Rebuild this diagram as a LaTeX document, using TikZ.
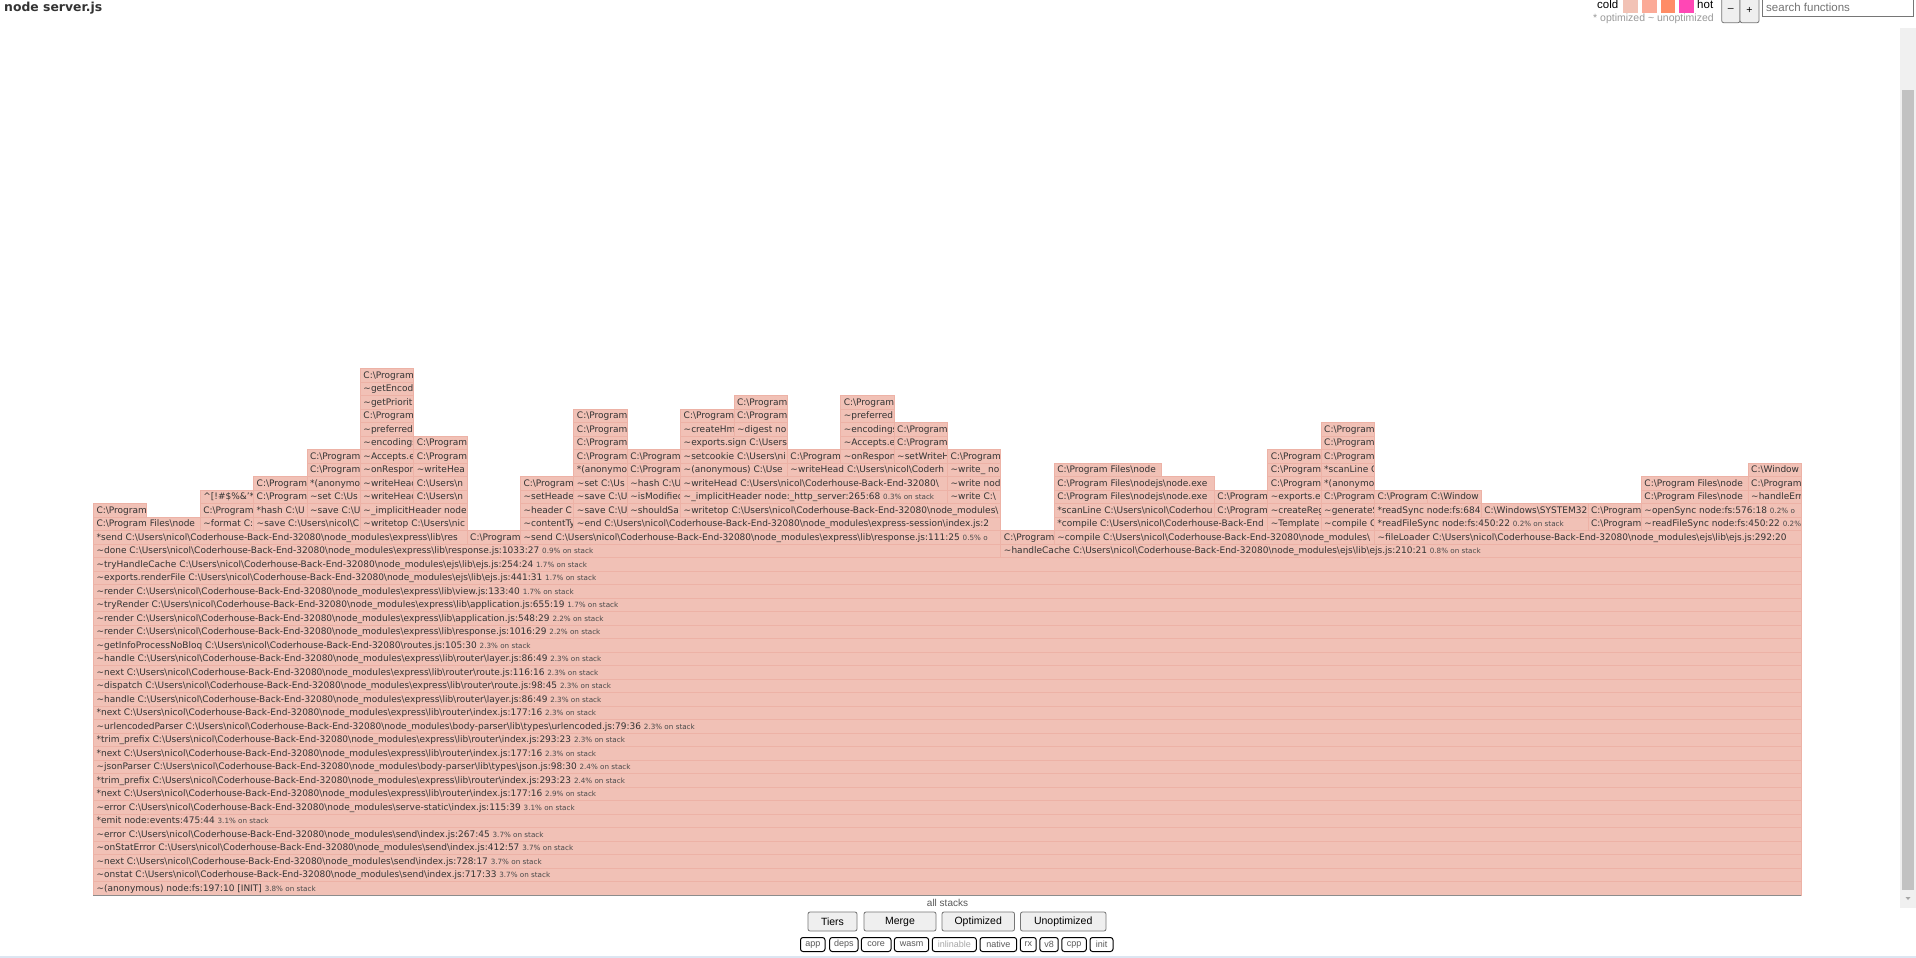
\documentclass[tikz,border=0pt]{standalone}
\usepackage{fontspec}
\setmainfont{DejaVu Sans}
\newfontfamily\arialfont{Liberation Sans}

\definecolor{frfill}{HTML}{F1C1B6}
\definecolor{frline}{HTML}{EDB2A6}
\definecolor{frtext}{HTML}{333333}
\definecolor{pctext}{HTML}{4A4A4A}
\definecolor{btnfill}{HTML}{EFEFEF}
\definecolor{btnline}{HTML}{767676}
\definecolor{sqone}{HTML}{F2C2B5}
\definecolor{sqtwo}{HTML}{FBAA97}
\definecolor{sqthree}{HTML}{FF8C66}
\definecolor{sqfour}{HTML}{FF47B5}
\definecolor{pageblue}{HTML}{DCE6F2}

\newcommand\bsl{\textbackslash}
\newcommand\tld{\textasciitilde}
\newcommand\nm{C:\bsl Users\bsl nicol\bsl Coderhouse-Back-End-32080\bsl node\_modules\bsl}
\newcommand\cuser{C:\bsl Users\bsl nicol\bsl Coderhouse-Back-End-32080\bsl}
\newcommand\pg{C:\bsl Program Files\bsl nodejs\bsl node.exe}
\newcommand\pgm{C:\bsl Program}
\newcommand\pcs[1]{{\fontsize{7.2}{8}\selectfont\color{pctext}#1}}
\newcommand\pc[1]{\pcs{#1\% on stack}}
% frame: left column, right column, level, text
\newcommand\fr[4]{%
  \path[frame] ({93.3+53.375*#1},{895-13.5*#3}) rectangle ({93.3+53.375*#2},{895-13.5*(#3+1)});
  \begin{scope}
    \clip ({93.3+53.375*#1},{895-13.5*#3}) rectangle ({92.6+53.375*#2},{895-13.5*(#3+1)});
    \node[lbl] (f#3-#1) at ({96.4+53.375*#1},{895-13.5*#3-3.6}) {#4};
  \end{scope}}

\begin{document}
\begin{tikzpicture}[x=1pt,y=-1pt,
    frame/.style={fill=frfill,draw=frline,line width=0.6pt},
    lbl/.style={anchor=base west,inner sep=0pt,text=frtext,font=\fontsize{9}{10}\selectfont},
    btn/.style={draw=btnline,fill=btnfill,rounded corners=2pt,line width=0.8pt},
    tag/.style={draw=black,fill=white,rounded corners=2.5pt,line width=1pt},
    ui/.style={inner sep=0pt,font=\arialfont\fontsize{10.5}{12}\selectfont}]

\useasboundingbox (0,0) rectangle (1916,958);
\fill[white] (0,0) rectangle (1916,958);
\fill[pageblue] (0,955.5) rectangle (1916,958);

% header
\node[anchor=base west,inner sep=0pt,text=frtext,font=\bfseries\fontsize{12.4}{14}\selectfont] (title) at (4,12) {node server.js};
\node[ui,anchor=base west,font=\arialfont\fontsize{11.5}{13}\selectfont] (cold) at (1597,9) {cold};
\fill[sqone] (1623,0) rectangle (1637.5,13.3);
\fill[sqtwo] (1641.5,0) rectangle (1656.5,13.3);
\fill[sqthree] (1660.5,0) rectangle (1675,13.3);
\fill[sqfour] (1679,0) rectangle (1694,13.3);
\node[ui,anchor=base west,font=\arialfont\fontsize{11.5}{13}\selectfont] (hot) at (1697,9) {hot};
\node[ui,anchor=base west,text=black!40,font=\arialfont\fontsize{10.5}{12}\selectfont] (tiers) at (1593,22) {* optimized \textasciitilde{} unoptimized};
\draw[btn] (1721.7,-4) rectangle (1740,22.7);
\draw[btn] (1740,-4) rectangle (1759,22.7);
\node[ui] (minus) at (1730.8,10) {\textendash};
\node[ui] (plus) at (1749.5,10) {+};
\draw[btnline,fill=white,line width=0.9pt] (1762.5,-2) rectangle (1913,16);
\node[ui,anchor=base west,text=black!55,font=\arialfont\fontsize{11.5}{13}\selectfont] (search) at (1766,11.5) {search functions};

% scrollbar
\fill[black!6] (1900,28) rectangle (1916,908);
\fill[black!24] (1902,89.5) rectangle (1914,890);
\fill[black!35] (1905.5,897) -- (1910.5,897) -- (1908,900) -- cycle;

% full width stack
\fr{0}{32}{0}{\tld(anonymous) node:fs:197:10 [INIT] \pc{3.8}}
\fr{0}{32}{1}{\tld onstat \nm send\bsl index.js:717:33 \pc{3.7}}
\fr{0}{32}{2}{\tld next \nm send\bsl index.js:728:17 \pc{3.7}}
\fr{0}{32}{3}{\tld onStatError \nm send\bsl index.js:412:57 \pc{3.7}}
\fr{0}{32}{4}{\tld error \nm send\bsl index.js:267:45 \pc{3.7}}
\fr{0}{32}{5}{*emit node:events:475:44 \pc{3.1}}
\fr{0}{32}{6}{\tld error \nm serve-static\bsl index.js:115:39 \pc{3.1}}
\fr{0}{32}{7}{*next \nm express\bsl lib\bsl router\bsl index.js:177:16 \pc{2.9}}
\fr{0}{32}{8}{*trim\_prefix \nm express\bsl lib\bsl router\bsl index.js:293:23 \pc{2.4}}
\fr{0}{32}{9}{\tld jsonParser \nm body-parser\bsl lib\bsl types\bsl json.js:98:30 \pc{2.4}}
\fr{0}{32}{10}{*next \nm express\bsl lib\bsl router\bsl index.js:177:16 \pc{2.3}}
\fr{0}{32}{11}{*trim\_prefix \nm express\bsl lib\bsl router\bsl index.js:293:23 \pc{2.3}}
\fr{0}{32}{12}{\tld urlencodedParser \nm body-parser\bsl lib\bsl types\bsl urlencoded.js:79:36 \pc{2.3}}
\fr{0}{32}{13}{*next \nm express\bsl lib\bsl router\bsl index.js:177:16 \pc{2.3}}
\fr{0}{32}{14}{\tld handle \nm express\bsl lib\bsl router\bsl layer.js:86:49 \pc{2.3}}
\fr{0}{32}{15}{\tld dispatch \nm express\bsl lib\bsl router\bsl route.js:98:45 \pc{2.3}}
\fr{0}{32}{16}{\tld next \nm express\bsl lib\bsl router\bsl route.js:116:16 \pc{2.3}}
\fr{0}{32}{17}{\tld handle \nm express\bsl lib\bsl router\bsl layer.js:86:49 \pc{2.3}}
\fr{0}{32}{18}{\tld getInfoProcessNoBloq \cuser routes.js:105:30 \pc{2.3}}
\fr{0}{32}{19}{\tld render \nm express\bsl lib\bsl response.js:1016:29 \pc{2.2}}
\fr{0}{32}{20}{\tld render \nm express\bsl lib\bsl application.js:548:29 \pc{2.2}}
\fr{0}{32}{21}{\tld tryRender \nm express\bsl lib\bsl application.js:655:19 \pc{1.7}}
\fr{0}{32}{22}{\tld render \nm express\bsl lib\bsl view.js:133:40 \pc{1.7}}
\fr{0}{32}{23}{\tld exports.renderFile \nm ejs\bsl lib\bsl ejs.js:441:31 \pc{1.7}}
\fr{0}{32}{24}{\tld tryHandleCache \nm ejs\bsl lib\bsl ejs.js:254:24 \pc{1.7}}
\fr{0}{17}{25}{\tld done \nm express\bsl lib\bsl response.js:1033:27 \pc{0.9}}
\fr{17}{32}{25}{\tld handleCache \nm ejs\bsl lib\bsl ejs.js:210:21 \pc{0.8}}

% level 26
\fr{0}{7}{26}{*send \nm express\bsl lib\bsl res}
\fr{7}{8}{26}{\pgm}
\fr{8}{17}{26}{\tld send \nm express\bsl lib\bsl response.js:111:25 \pcs{0.5\% o}}
\fr{17}{18}{26}{\pgm}
\fr{18}{24}{26}{\tld compile \nm}
\fr{24}{32}{26}{\tld fileLoader \nm ejs\bsl lib\bsl ejs.js:292:20}

% left tower
\fr{0}{2}{27}{C:\bsl Program Files\bsl node}
\fr{2}{3}{27}{\tld format C:}
\fr{3}{5}{27}{\tld save C:\bsl Users\bsl nicol\bsl C}
\fr{5}{7}{27}{\tld writetop C:\bsl Users\bsl nic}
\fr{0}{1}{28}{\pgm}
\fr{2}{3}{28}{\pgm}
\fr{3}{4}{28}{*hash C:\bsl U}
\fr{4}{5}{28}{\tld save C:\bsl U}
\fr{5}{7}{28}{\tld\_implicitHeader node}
\fr{2}{3}{29}{\textasciicircum[!\#\$\%\&'*}
\fr{3}{4}{29}{\pgm}
\fr{4}{5}{29}{\tld set C:\bsl Us}
\fr{5}{6}{29}{\tld writeHead}
\fr{6}{7}{29}{C:\bsl Users\bsl n}
\fr{3}{4}{30}{\pgm}
\fr{4}{5}{30}{*(anonymo}
\fr{5}{6}{30}{\tld writeHead}
\fr{6}{7}{30}{C:\bsl Users\bsl n}
\fr{4}{5}{31}{\pgm}
\fr{5}{6}{31}{\tld onRespon}
\fr{6}{7}{31}{\tld writeHea}
\fr{4}{5}{32}{\pgm}
\fr{5}{6}{32}{\tld Accepts.e}
\fr{6}{7}{32}{\pgm}
\fr{5}{6}{33}{\tld encodings}
\fr{6}{7}{33}{\pgm}
\fr{5}{6}{34}{\tld preferred}
\fr{5}{6}{35}{\pgm}
\fr{5}{6}{36}{\tld getPriority}
\fr{5}{6}{37}{\tld getEncodi}
\fr{5}{6}{38}{\pgm}

% middle tower
\fr{8}{9}{27}{\tld contentTy}
\fr{9}{17}{27}{\tld end \nm express-session\bsl index.js:2}
\fr{8}{9}{28}{\tld header C}
\fr{9}{10}{28}{\tld save C:\bsl U}
\fr{10}{11}{28}{\tld shouldSa}
\fr{11}{17}{28}{\tld writetop \nm}
\fr{8}{9}{29}{\tld setHeader}
\fr{9}{10}{29}{\tld save C:\bsl U}
\fr{10}{11}{29}{\tld isModified}
\fr{11}{16}{29}{\tld\_implicitHeader node:\_http\_server:265:68 \pc{0.3}}
\fr{16}{17}{29}{\tld write C:\bsl}
\fr{8}{9}{30}{\pgm}
\fr{9}{10}{30}{\tld set C:\bsl Us}
\fr{10}{11}{30}{\tld hash C:\bsl U}
\fr{11}{16}{30}{\tld writeHead \cuser}
\fr{16}{17}{30}{\tld write nod}
\fr{9}{10}{31}{*(anonymo}
\fr{10}{11}{31}{\pgm}
\fr{11}{13}{31}{\tld(anonymous) C:\bsl Use}
\fr{13}{16}{31}{\tld writeHead C:\bsl Users\bsl nicol\bsl Coderh}
\fr{16}{17}{31}{\tld write\_ no}
\fr{9}{10}{32}{\pgm}
\fr{10}{11}{32}{\pgm}
\fr{11}{13}{32}{\tld setcookie C:\bsl Users\bsl ni}
\fr{13}{14}{32}{\pgm}
\fr{14}{15}{32}{\tld onRespon}
\fr{15}{16}{32}{\tld setWriteH}
\fr{16}{17}{32}{\pgm}
\fr{9}{10}{33}{\pgm}
\fr{11}{13}{33}{\tld exports.sign C:\bsl Users}
\fr{14}{15}{33}{\tld Accepts.e}
\fr{15}{16}{33}{\pgm}
\fr{9}{10}{34}{\pgm}
\fr{11}{12}{34}{\tld createHm}
\fr{12}{13}{34}{\tld digest no}
\fr{14}{15}{34}{\tld encodings}
\fr{15}{16}{34}{\pgm}
\fr{9}{10}{35}{\pgm}
\fr{11}{12}{35}{\pgm}
\fr{12}{13}{35}{\pgm}
\fr{14}{15}{35}{\tld preferred}
\fr{12}{13}{36}{\pgm}
\fr{14}{15}{36}{\pgm}

% right towers
\fr{18}{22}{27}{*compile C:\bsl Users\bsl nicol\bsl Coderhouse-Back-End}
\fr{22}{23}{27}{\tld Template}
\fr{23}{24}{27}{\tld compile C}
\fr{24}{28}{27}{*readFileSync node:fs:450:22 \pc{0.2}}
\fr{28}{29}{27}{\pgm}
\fr{29}{32}{27}{\tld readFileSync node:fs:450:22 \pcs{0.2\%}}
\fr{18}{21}{28}{*scanLine C:\bsl Users\bsl nicol\bsl Coderhou}
\fr{21}{22}{28}{\pgm}
\fr{22}{23}{28}{\tld createReg}
\fr{23}{24}{28}{\tld generateS}
\fr{24}{26}{28}{*readSync node:fs:684}
\fr{26}{28}{28}{C:\bsl Windows\bsl SYSTEM32}
\fr{28}{29}{28}{\pgm}
\fr{29}{32}{28}{\tld openSync node:fs:576:18 \pcs{0.2\% o}}
\fr{18}{21}{29}{\pg}
\fr{21}{22}{29}{\pgm}
\fr{22}{23}{29}{\tld exports.e}
\fr{23}{24}{29}{\pgm}
\fr{24}{25}{29}{\pgm}
\fr{25}{26}{29}{C:\bsl Window}
\fr{29}{31}{29}{C:\bsl Program Files\bsl node}
\fr{31}{32}{29}{\tld handleErr}
\fr{18}{21}{30}{\pg}
\fr{22}{23}{30}{\pgm}
\fr{23}{24}{30}{*(anonymo}
\fr{29}{31}{30}{C:\bsl Program Files\bsl node}
\fr{31}{32}{30}{\pgm}
\fr{18}{20}{31}{C:\bsl Program Files\bsl node}
\fr{22}{23}{31}{\pgm}
\fr{23}{24}{31}{*scanLine C}
\fr{31}{32}{31}{C:\bsl Window}
\fr{22}{23}{32}{\pgm}
\fr{23}{24}{32}{\pgm}
\fr{23}{24}{33}{\pgm}
\fr{23}{24}{34}{\pgm}

% footer
\draw[black!45,line width=1.2pt] (93.3,895.6) -- (1801.3,895.6);
\node[ui,text=black!65,font=\arialfont\fontsize{10}{12}\selectfont] (allstacks) at (947.5,903) {all stacks};
\draw[btn] (808,912) rectangle (857,931);
\draw[btn] (864,912) rectangle (936,931);
\draw[btn] (942,912) rectangle (1014.5,931);
\draw[btn] (1020.5,912) rectangle (1106,931);
\node[ui] (tb) at (832.5,921.5) {Tiers};
\node[ui] (mb) at (900,921.5) {Merge};
\node[ui] (ob) at (978.2,921.5) {Optimized};
\node[ui] (ub) at (1063.2,921.5) {Unoptimized};
\foreach \l/\r/\t/\c in {800.5/825/app/black!65,829.7/858/deps/black!65,861.4/891/core/black!65,894.4/928.6/wasm/black!65,932.3/976.3/inlinable/black!35,980/1016.6/native/black!65,1020.3/1036.2/rx/black!65,1039.9/1058.2/v8/black!65,1061.8/1086.3/cpp/black!65,1090/1113/init/black!65}{
  \draw[tag] (\l,937.5) rectangle (\r,951.5);
  \node[ui,text=\c,font=\arialfont\fontsize{9}{10}\selectfont] (tag-\t) at ({(\l+\r)/2},944.5) {\t};
}
\end{tikzpicture}
\end{document}
